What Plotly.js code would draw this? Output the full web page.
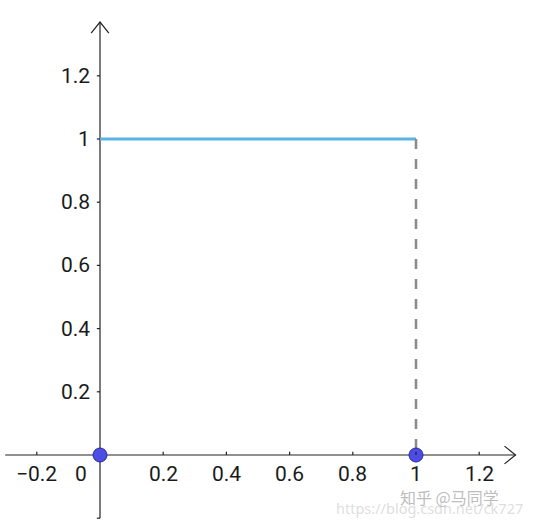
<!DOCTYPE html>
<html>
<head>
<meta charset="utf-8">
<script src="https://cdn.plot.ly/plotly-3.0.1.min.js"></script>
<style>html,body{margin:0;padding:0;background:#fff;}#chart{width:538px;height:527px;}</style>
</head>
<body>
<div id="chart"></div>
<script>
// Data
const stepX = [0, 1];
const stepY = [1, 1];
const dropX = [1, 1];
const dropY = [1, 0];
const pointX = [0, 1];
const pointY = [0, 0];
const xTickVals = [-0.2, 0.2, 0.4, 0.6, 0.8, 1, 1.2];
const xTickText = ['\u22120.2', '0.2', '0.4', '0.6', '0.8', '1', '1.2'];
const yTickVals = [0.2, 0.4, 0.6, 0.8, 1, 1.2];
const yTickText = ['0.2', '0.4', '0.6', '0.8', '1', '1.2'];
const xAxisExtent = [-0.30, 1.315];
const yAxisExtent = [-0.2, 1.37];

const axisColor = '#222';
const shapes = [];
shapes.push({type:'line', xref:'x', yref:'y', x0:xAxisExtent[0], x1:xAxisExtent[1], y0:0, y1:0, line:{color:axisColor, width:1.2}, layer:'below'});
shapes.push({type:'line', xref:'x', yref:'y', x0:0, x1:0, y0:yAxisExtent[0], y1:yAxisExtent[1], line:{color:axisColor, width:1.2}, layer:'below'});
const ah = 0.035;
shapes.push({type:'path', xref:'x', yref:'y', path:`M ${xAxisExtent[1]-ah} ${ah*0.8} L ${xAxisExtent[1]} 0 L ${xAxisExtent[1]-ah} ${-ah*0.8}`, line:{color:axisColor, width:1.2}});
shapes.push({type:'path', xref:'x', yref:'y', path:`M ${-ah*0.8} ${yAxisExtent[1]-ah} L 0 ${yAxisExtent[1]} L ${ah*0.8} ${yAxisExtent[1]-ah}`, line:{color:axisColor, width:1.2}});
const tk = 0.01;
xTickVals.forEach(v => shapes.push({type:'line', xref:'x', yref:'y', x0:v, x1:v, y0:0, y1:tk, line:{color:axisColor, width:1.2}}));
yTickVals.concat([-0.2]).forEach(v => shapes.push({type:'line', xref:'x', yref:'y', x0:-tk, x1:0, y0:v, y1:v, line:{color:axisColor, width:1.2}}));

const tickFont = {family:'Roboto, "Open Sans", sans-serif', size:21, color:'#1a1a1a'};
const annotations = [];
xTickVals.forEach((v,i) => annotations.push({x:v, y:0, xref:'x', yref:'y', text:xTickText[i], showarrow:false, yshift:-19, font:tickFont}));
annotations.push({x:0, y:0, xref:'x', yref:'y', text:'0', showarrow:false, xshift:-19, yshift:-19, font:tickFont});
yTickVals.forEach((v,i) => annotations.push({x:0, y:v, xref:'x', yref:'y', text:yTickText[i], showarrow:false, xanchor:'right', xshift:-8, font:tickFont}));
// watermark (pixel positions converted to paper fractions)
const wm = [
  {px:429, py:508, text:'https://blog.csdn.net/ck727', font:{family:'"Noto Sans", sans-serif', size:14.5, color:'rgba(218,218,218,0.9)'}},
  {px:449, py:497, text:'知乎 @马同学', font:{family:'"Noto Sans CJK SC", sans-serif', size:16, color:'rgba(180,180,180,0.9)'}}
];
wm.forEach(w => annotations.push({x:w.px/538, y:1 - w.py/527, xref:'paper', yref:'paper', xanchor:'center', yanchor:'middle', text:w.text, showarrow:false, font:w.font}));

const traces = [
  {x:stepX, y:stepY, mode:'lines', line:{color:'#5ab4e6', width:3}, hoverinfo:'skip'},
  {x:dropX, y:dropY, mode:'lines', line:{color:'#8a8a8a', width:2.5, dash:'10px,10px'}, hoverinfo:'skip'},
  {x:pointX, y:pointY, mode:'markers', marker:{size:14, color:'#4d4de6', line:{color:'#2a2a9a', width:1}}, hoverinfo:'skip', cliponaxis:false}
];

const layout = {
  width:538, height:527,
  margin:{l:0, r:0, t:0, b:0},
  paper_bgcolor:'#fff', plot_bgcolor:'#fff',
  showlegend:false,
  xaxis:{range:[-100/316, 438/316], visible:false, fixedrange:true},
  yaxis:{range:[-72/316, 455/316], visible:false, fixedrange:true},
  shapes:shapes,
  annotations:annotations
};
Plotly.newPlot('chart', traces, layout, {displayModeBar:false, staticPlot:true});
</script>
</body>
</html>
